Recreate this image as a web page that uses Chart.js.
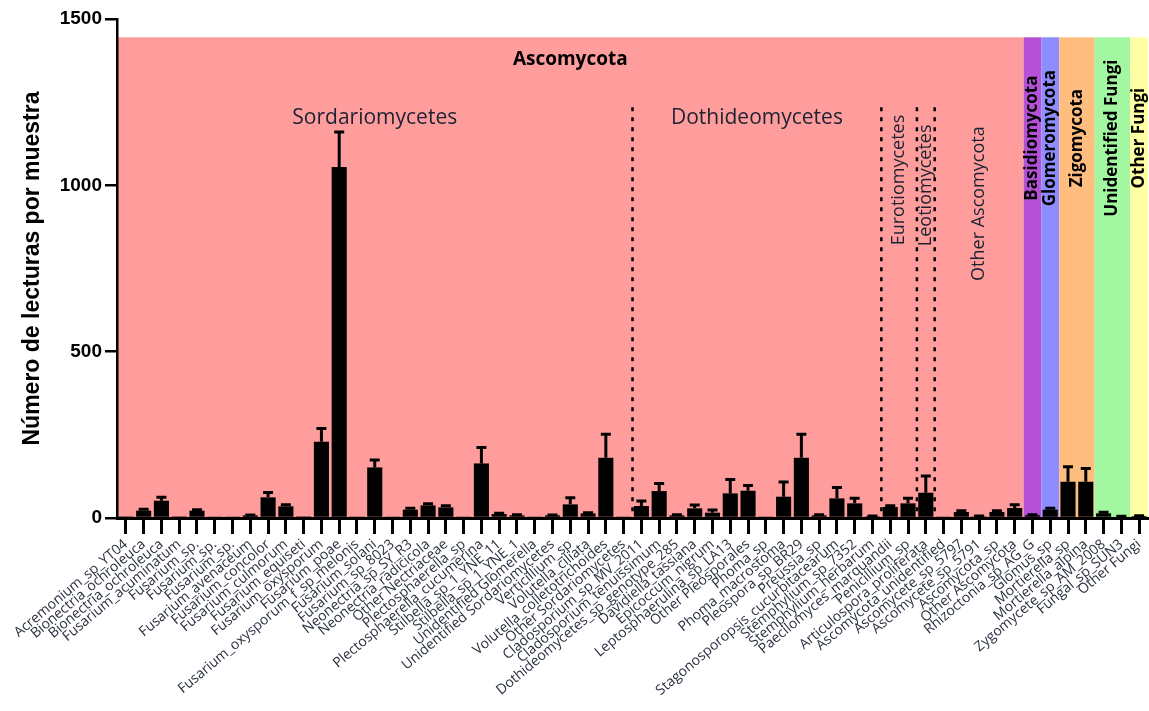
<!DOCTYPE html>
<html>
<head>
<meta charset="utf-8">
<script src="https://cdn.jsdelivr.net/npm/chart.js@4/dist/chart.umd.min.js"></script>
<style>
  html, body { margin: 0; padding: 0; background: #fff; }
</style>
</head>
<body>
<canvas id="chart" width="1149" height="711"></canvas>
<script>
// taxa in plotting order
const taxa = [
    'Acremonium_sp_YT04', 'Bionectria_ochroleuca', 'Bionectria_ochroleuca', 'Fusarium_acuminatum',
    'Fusarium_sp.', 'Fusarium_sp.', 'Fusarium_sp.', 'Fusarium_avenaceum', 'Fusarium_concolor',
    'Fusarium_culmorum', 'Fusarium_equiseti', 'Fusarium_oxysporum', 'Fusarium_poae',
    'Fusarium_oxysporum_f_sp_melonis', 'Fusarium_solani', 'Fusarium_sp_8023', 'Neonectria_sp_SY_R3',
    'Neonectria_radicicola', 'Other Nectriaceae', 'Plectosphaerella_sp', 'Plectosphaerella_cucumerina',
    'Stilbella_sp_1_YNE_11', 'Stilbella_sp_1_YNE_1', 'Unidentified Glomerella',
    'Unidentified Sordariomycetes', 'Verticillium_sp', 'Volutella_ciliata',
    'Volutella_colletotrichoides', 'Other Sordariomycetes',
    'Cladosporium_sp_MV_2011', 'Cladosporium_tenuissimum', 'Dothideomycetes_sp_genotype_285',
    'Davidiella_tassiana', 'Epicoccum_nigrum', 'Leptosphaerulina_sp_LA13', 'Other Pleosporales',
    'Phoma_sp', 'Phoma_macrostoma', 'Pleospora_sp_BR29', 'Preussia_sp',
    'Stagonosporopsis_cucurbitacearum', 'Stemphylium_sp_7352', 'Stemphylium_herbarum',
    'Paecilomyces_marquandii', 'Penicillium_sp', 'Articulospora_proliferata',
    'Ascomycota_unidentified', 'Ascomycete_sp_5797', 'Ascomycete_sp_5791', 'Ascomycota_sp',
    'Other Ascomycota', 'Rhizoctonia_sp_AG_G', 'Glomus_sp', 'Mortierella_sp', 'Mortierella_alpina',
    'Zygomycete_sp_AM_2008', 'Fungal_sp_SUN3', 'Other Fungi'
];

// mean reads per sample and error (upper bar only)
const counts = [5, 22, 52, 5, 22, 3, 3, 8, 62, 35, 5, 229, 1055, 2, 152, 2, 25, 38, 32, 3, 164, 12, 8, 3, 8, 41, 14, 181, 3,
    36, 81, 8, 29, 16, 74, 82, 3, 64, 181, 8, 59, 44, 5, 33, 44, 76, 2, 18, 5, 18, 30, 8, 25, 109, 109, 14, 4, 6];
const errors = [0, 4, 10, 0, 3, 0, 0, 1, 15, 5, 0, 40, 105, 0, 22, 0, 4, 5, 5, 0, 48, 2, 2, 0, 1, 20, 2, 71, 0,
    15, 23, 2, 10, 8, 42, 16, 0, 44, 71, 2, 33, 15, 1, 4, 15, 50, 0, 4, 1, 4, 10, 2, 4, 45, 40, 3, 1, 1];

const yTicks = [0, 500, 1000, 1500];

// phylum bands (first / last taxon index)
const phyla = ['Ascomycota', 'Basidiomycota', 'Glomeromycota', 'Zigomycota', 'Unidentified Fungi', 'Other Fungi'];
const phylumFirst = [0, 51, 52, 53, 55, 57];
const phylumLast = [50, 51, 52, 54, 56, 57];
const phylumColors = ['#ff9d9d', '#b551d6', '#8d8dff', '#ffbd80', '#a3f7a0', '#ffffa3'];

// classes inside Ascomycota
const classes = ['Sordariomycetes', 'Dothideomycetes', 'Eurotiomycetes', 'Leotiomycetes', 'Other Ascomycota'];
const classFirst = [0, 29, 43, 45, 46];
const classLast = [28, 42, 44, 45, 50];

const BAND_TOP = 1445;

const groupsPlugin = {
    id: 'groups',
    beforeDraw(chart) {
        const { ctx, chartArea, scales: { x, y } } = chart;
        ctx.save();
        phyla.forEach((name, i) => {
            const left = x.getPixelForValue(phylumFirst[i] - 0.5);
            const right = x.getPixelForValue(phylumLast[i] + 0.5);
            const top = y.getPixelForValue(BAND_TOP);
            ctx.fillStyle = phylumColors[i];
            ctx.fillRect(left, top, right - left, chartArea.bottom - top);
        });
        ctx.restore();
    },
    beforeDatasetsDraw(chart) {
        const { ctx, chartArea, scales: { x, y } } = chart;
        ctx.save();

        // dotted separators between classes
        ctx.strokeStyle = '#000';
        ctx.lineWidth = 2.5;
        ctx.setLineDash([4, 6]);
        for (let i = 0; i < 4; i++) {
            const px = x.getPixelForValue(classLast[i] + 0.5);
            ctx.beginPath();
            ctx.moveTo(px, y.getPixelForValue(1235));
            ctx.lineTo(px, chartArea.bottom);
            ctx.stroke();
        }
        ctx.setLineDash([]);

        const mid = (a, b) => (x.getPixelForValue(a) + x.getPixelForValue(b)) / 2;

        // Ascomycota title
        ctx.fillStyle = '#000';
        ctx.textAlign = 'center';
        ctx.textBaseline = 'middle';
        ctx.font = 'bold 19px "Open Sans"';
        ctx.fillText(phyla[0], mid(phylumFirst[0] - 0.5, phylumLast[0] + 0.5), y.getPixelForValue(1377));

        // class labels
        ctx.fillStyle = '#1c2233';
        ctx.font = '21px "Open Sans"';
        for (let i = 0; i < 2; i++) {
            ctx.fillText(classes[i], mid(classFirst[i], classLast[i]), y.getPixelForValue(1202));
        }
        ctx.font = '18px "Open Sans"';
        const classY = [0, 0, 1016, 1000, 945];
        for (let i = 2; i < classes.length; i++) {
            ctx.save();
            ctx.translate(mid(classFirst[i], classLast[i]), y.getPixelForValue(classY[i]));
            ctx.rotate(-Math.PI / 2);
            ctx.fillText(classes[i], 0, 0);
            ctx.restore();
        }

        // other phyla, vertical bold
        ctx.fillStyle = '#000';
        ctx.font = 'bold 17px "Open Sans"';
        for (let i = 1; i < phyla.length; i++) {
            ctx.save();
            ctx.translate(mid(phylumFirst[i], phylumLast[i]), y.getPixelForValue(1142));
            ctx.rotate(-Math.PI / 2);
            ctx.fillText(phyla[i], 0, 0);
            ctx.restore();
        }
        ctx.restore();
    },
    afterDatasetsDraw(chart) {
        const { ctx, scales: { y } } = chart;
        const meta = chart.getDatasetMeta(0);
        ctx.save();
        ctx.strokeStyle = '#000';
        ctx.lineWidth = 3;
        meta.data.forEach((bar, i) => {
            if (!errors[i]) return;
            const top = y.getPixelForValue(counts[i] + errors[i]);
            ctx.beginPath();
            ctx.moveTo(bar.x, bar.y);
            ctx.lineTo(bar.x, top);
            ctx.moveTo(bar.x - 5, top);
            ctx.lineTo(bar.x + 5, top);
            ctx.stroke();
        });
        ctx.restore();
    }
};

new Chart(document.getElementById('chart'), {
    type: 'bar',
    data: {
        labels: taxa,
        datasets: [{
            data: counts,
            backgroundColor: '#000',
            barPercentage: 0.85,
            categoryPercentage: 1.0,
        }],
    },
    options: {
        responsive: false,
        animation: false,
        layout: { padding: { top: 19, right: 1, left: 0, bottom: 0 } },
        plugins: {
            legend: { display: false },
            tooltip: { enabled: false },
        },
        scales: {
            x: {
                grid: {
                    offset: false,
                    drawOnChartArea: false,
                    tickLength: 16,
                    lineWidth: 3,
                    color: '#000',
                },
                border: { color: '#000', width: 3 },
                ticks: {
                    autoSkip: false,
                    minRotation: 40,
                    maxRotation: 40,
                    padding: 2,
                    color: '#2b3142',
                    font: { family: 'Open Sans', size: 14 },
                },
                afterFit: (scale) => {
                    scale.height = 193;
                    scale.paddingLeft = 0;
                    scale.paddingRight = 0;
                },
            },
            y: {
                min: 0,
                max: 1500,
                grid: {
                    drawOnChartArea: false,
                    tickLength: 12,
                    lineWidth: 2.5,
                    color: '#000',
                },
                border: { color: '#000', width: 2.5 },
                ticks: {
                    padding: 3,
                    color: '#000',
                    font: { family: 'Liberation Sans', size: 19, weight: 'bold' },
                    callback: (value) => String(value),
                },
                afterBuildTicks: (scale) => {
                    scale.ticks = yTicks.map((v) => ({ value: v }));
                },
                title: {
                    display: true,
                    text: 'Número de lecturas por muestra',
                    color: '#000',
                    padding: { top: 19 },
                    font: { family: 'Liberation Sans', size: 23, weight: 'bold' },
                },
                afterFit: (scale) => {
                    scale.width = 117;
                },
            },
        },
    },
    plugins: [groupsPlugin],
});
</script>
</body>
</html>
